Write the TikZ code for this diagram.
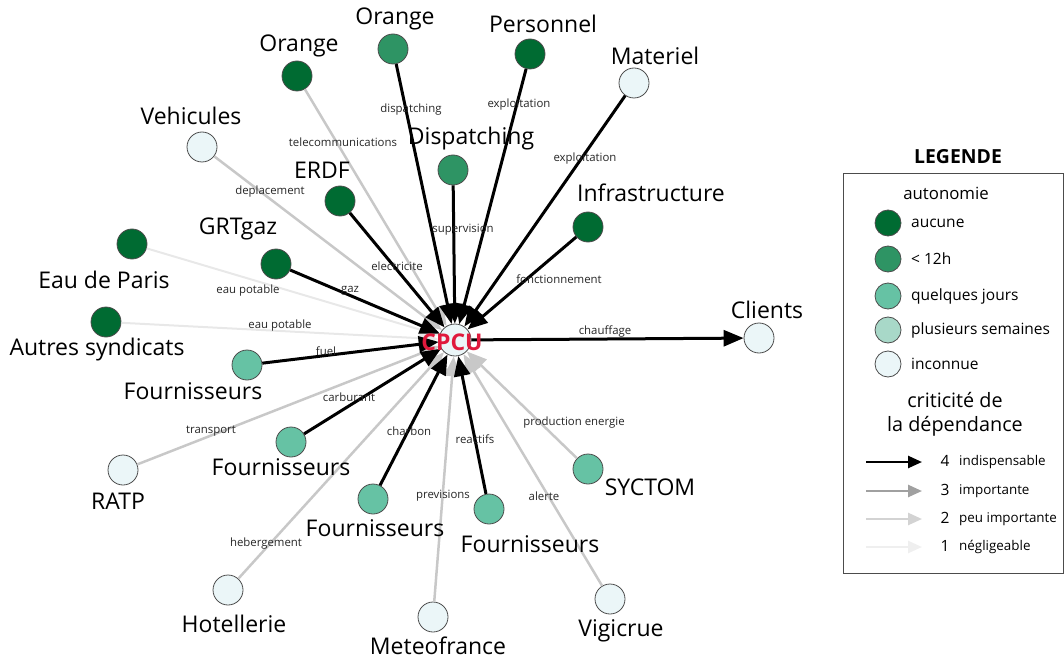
\documentclass[tikz,border=0pt]{standalone}
\usepackage{fontspec}
\setmainfont{Open Sans}
\usetikzlibrary{arrows.meta}
\definecolor{cNone}{HTML}{006B32}
\definecolor{cTwelve}{HTML}{2E9464}
\definecolor{cDays}{HTML}{66C2A4}
\definecolor{cWeeks}{HTML}{A8D8C8}
\definecolor{cInc}{HTML}{EBF6F8}
\definecolor{gThree}{HTML}{A0A0A0}
\definecolor{gTwo}{HTML}{C8C8C8}
\definecolor{gOne}{HTML}{E8E8E8}
\definecolor{cpcured}{HTML}{E0193C}
\begin{document}
\begin{tikzpicture}[x=1pt,y=-1pt,
  ent/.style={circle, draw=black!70, line width=0.8pt, minimum size=30pt, inner sep=0pt},
  nlab/.style={font=\fontsize{23}{26}\selectfont, inner sep=0pt},
  elab/.style={font=\fontsize{11.4}{13}\selectfont, text=black!85, inner sep=0pt},
  imp4/.style={line width=3pt, black, -{Triangle[length=20pt,width=16pt]}},
  imp3/.style={line width=2.5pt, gThree, -{Triangle[length=20pt,width=16pt]}},
  imp2/.style={line width=2.5pt, gTwo, -{Triangle[length=20pt,width=16pt]}},
  imp1/.style={line width=2pt, gOne, -{Triangle[length=20pt,width=16pt]}},
  leg/.style={font=\fontsize{15.5}{18}\selectfont, anchor=west, inner sep=0pt},
  legsm/.style={font=\fontsize{13.4}{16}\selectfont, anchor=west, inner sep=0pt},
  legc/.style={circle, draw=black!70, line width=0.8pt, minimum size=26pt, inner sep=0pt}
]
\useasboundingbox (0,0) rectangle (1064,660);

% centre
\node[ent, fill=cInc, minimum size=32pt] (cpcu) at (455,340) {};

% entities
\node[ent, fill=cNone]  (orA)   at (297,76)  {};
\node[ent, fill=cTwelve](orB)   at (393,49)  {};
\node[ent, fill=cNone]  (pers)  at (530,54)  {};
\node[ent, fill=cInc]   (mat)   at (634,83)  {};
\node[ent, fill=cInc]   (veh)   at (202,147) {};
\node[ent, fill=cTwelve](disp)  at (453,170) {};
\node[ent, fill=cNone]  (erdf)  at (340,201) {};
\node[ent, fill=cNone]  (infra) at (588,227) {};
\node[ent, fill=cNone]  (grt)   at (276,264) {};
\node[ent, fill=cNone]  (eau)   at (132,244) {};
\node[ent, fill=cNone]  (autres)at (106,322) {};
\node[ent, fill=cDays]  (fA)    at (247,365) {};
\node[ent, fill=cInc]   (ratp)  at (123,470) {};
\node[ent, fill=cDays]  (fB)    at (291,442) {};
\node[ent, fill=cInc]   (hot)   at (228,590) {};
\node[ent, fill=cDays]  (fC)    at (373,499) {};
\node[ent, fill=cInc]   (meteo) at (433,617) {};
\node[ent, fill=cDays]  (fD)    at (489,509) {};
\node[ent, fill=cInc]   (vig)   at (610,599) {};
\node[ent, fill=cDays]  (syc)   at (588,469) {};
\node[ent, fill=cInc]   (cli)   at (759,338) {};

% edges
\draw[imp1] (eau) -- (cpcu);
\draw[imp1] (autres) -- (cpcu);
\draw[imp2] (orA) -- (cpcu);
\draw[imp2] (veh) -- (cpcu);
\draw[imp2] (ratp) -- (cpcu);
\draw[imp2] (hot) -- (cpcu);
\draw[imp2] (meteo) -- (cpcu);
\draw[imp2] (vig) -- (cpcu);
\draw[imp2] (syc) -- (cpcu);
\draw[imp4] (orB) -- (cpcu);
\draw[imp4] (pers) -- (cpcu);
\draw[imp4] (mat) -- (cpcu);
\draw[imp4] (disp) -- (cpcu);
\draw[imp4] (erdf) -- (cpcu);
\draw[imp4] (infra) -- (cpcu);
\draw[imp4] (grt) -- (cpcu);
\draw[imp4] (fA) -- (cpcu);
\draw[imp4] (fB) -- (cpcu);
\draw[imp4] (fC) -- (cpcu);
\draw[imp4] (fD) -- (cpcu);
\draw[imp4] (cpcu) -- (cli);

\node[font=\bfseries\fontsize{23}{25}\selectfont, text=cpcured, inner sep=0pt] (cpcuL) at (452,342) {CPCU};

% entity labels
\node[nlab] (orAL)   at (299,46)  {Orange};
\node[nlab] (orBL)   at (395,19)  {Orange};
\node[nlab] (persL)  at (543,24)  {Personnel};
\node[nlab] (matL)   at (655,56)  {Materiel};
\node[nlab] (vehL)   at (191,116) {Vehicules};
\node[nlab] (dispL)  at (471,139) {Dispatching};
\node[nlab] (erdfL)  at (322,170) {ERDF};
\node[nlab] (infraL) at (651,193) {Infrastructure};
\node[nlab] (grtL)   at (238,229) {GRTgaz};
\node[nlab] (eauL)   at (104,280) {Eau de Paris};
\node[nlab] (autresL)at (97,350)  {Autres syndicats};
\node[nlab] (fAL)    at (193,391) {Fournisseurs};
\node[nlab] (ratpL)  at (118,501) {RATP};
\node[nlab] (fBL)    at (281,467) {Fournisseurs};
\node[nlab] (hotL)   at (234,624) {Hotellerie};
\node[nlab] (fCL)    at (375,528) {Fournisseurs};
\node[nlab] (meteoL) at (438,646) {Meteofrance};
\node[nlab] (fDL)    at (530,544) {Fournisseurs};
\node[nlab] (vigL)   at (621,631) {Vigicrue};
\node[nlab] (sycL)   at (650,487) {SYCTOM};
\node[nlab] (cliL)   at (767,310) {Clients};

% edge labels
\node[elab] (e1)  at (343,142) {telecommunications};
\node[elab] (e2)  at (411,110) {dispatching};
\node[elab] (e3)  at (519,105) {exploitation};
\node[elab] (e4)  at (585,159) {exploitation};
\node[elab] (e5)  at (270,192) {deplacement};
\node[elab] (e6)  at (463,230) {supervision};
\node[elab] (e7)  at (397,266) {electricite};
\node[elab] (e8)  at (559,279) {fonctionnement};
\node[elab] (e9)  at (350,291) {gaz};
\node[elab] (e10) at (248,291) {eau potable};
\node[elab] (e11) at (280,326) {eau potable};
\node[elab] (e12) at (326,351) {fuel};
\node[elab] (e13) at (211,431) {transport};
\node[elab] (e14) at (349,397) {carburant};
\node[elab] (e15) at (266,544) {hebergement};
\node[elab] (e16) at (409,431) {charbon};
\node[elab] (e17) at (443,496) {previsions};
\node[elab] (e18) at (475,439) {reactifs};
\node[elab] (e19) at (544,496) {alerte};
\node[elab] (e20) at (574,423) {production energie};
\node[elab] (e21) at (605,332) {chauffage};

% legend
\node[font=\bfseries\fontsize{19.4}{21}\selectfont, inner sep=0pt] (legT) at (958,157) {LEGENDE};
\draw[black!70, line width=0.8pt] (843,173) rectangle (1063,573);
\node[font=\fontsize{16.8}{20}\selectfont, inner sep=0pt] (legA) at (946,193) {autonomie};
\node[legc, fill=cNone]   (lc1) at (888,223) {};
\node[legc, fill=cTwelve] (lc2) at (888,259) {};
\node[legc, fill=cDays]   (lc3) at (888,296) {};
\node[legc, fill=cWeeks]  (lc4) at (888,330) {};
\node[legc, fill=cInc]    (lc5) at (888,364) {};
\node[leg] (lt1) at (911,223) {aucune};
\node[leg] (lt2) at (911,259) {< 12h};
\node[leg] (lt3) at (911,296) {quelques jours};
\node[leg] (lt4) at (911,330) {plusieurs semaines};
\node[leg] (lt5) at (911,364) {inconnue};
\node[font=\fontsize{19.8}{24}\selectfont, align=center, inner sep=0pt] (legC) at (955,414) {criticité de\\la dépendance};
\coordinate (a4s) at (866,462); \coordinate (a4e) at (922,462);
\coordinate (a3s) at (866,491); \coordinate (a3e) at (922,491);
\coordinate (a2s) at (866,519); \coordinate (a2e) at (922,519);
\coordinate (a1s) at (866,547); \coordinate (a1e) at (922,547);
\draw[line width=2.5pt, black, -{Triangle[length=14pt,width=12pt]}] (a4s) -- (a4e);
\draw[line width=2.5pt, gThree, -{Triangle[length=14pt,width=12pt]}] (a3s) -- (a3e);
\draw[line width=2.5pt, gTwo!80, -{Triangle[length=14pt,width=12pt]}] (a2s) -- (a2e);
\draw[line width=2.5pt, gOne!70, -{Triangle[length=14pt,width=12pt]}] (a1s) -- (a1e);
\node[font=\fontsize{15.5}{18}\selectfont, inner sep=0pt] (n4) at (945,461) {4};
\node[font=\fontsize{15.5}{18}\selectfont, inner sep=0pt] (n3) at (945,490) {3};
\node[font=\fontsize{15.5}{18}\selectfont, inner sep=0pt] (n2) at (945,518) {2};
\node[font=\fontsize{15.5}{18}\selectfont, inner sep=0pt] (n1) at (945,546) {1};
\node[legsm] (lw4) at (959,462) {indispensable};
\node[legsm] (lw3) at (959,491) {importante};
\node[legsm] (lw2) at (959,519) {peu importante};
\node[legsm] (lw1) at (959,547) {négligeable};
\end{tikzpicture}
\end{document}
